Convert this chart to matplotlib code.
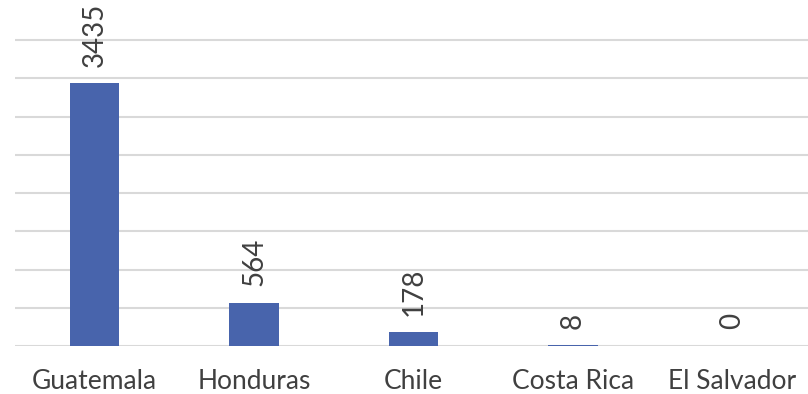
import matplotlib
matplotlib.use("Agg")
import matplotlib.pyplot as plt

categories = ["Guatemala", "Honduras", "Chile", "Costa Rica", "El Salvador"]
values = [3435, 564, 178, 8, 0]
yticks = [0, 500, 1000, 1500, 2000, 2500, 3000, 3500, 4000]

W, H = 808, 394
fig = plt.figure(figsize=(W / 100, H / 100), dpi=100)
left = 15 / W
right_px = 812
bottom = (H - 346) / H
ax = fig.add_axes([left, bottom, (right_px - 15) / W, 346 / H])

x = list(range(len(categories)))
bars = ax.bar(x, values, width=0.31, color="#4864AC", zorder=3)
ax.set_xlim(-0.5, len(categories) - 0.5)
ax.set_ylim(0, 4523)
ax.set_yticks(yticks)
ax.yaxis.grid(True, color="#D9D9D9", linewidth=1.5, zorder=0)
ax.tick_params(axis="y", left=False, labelleft=False)
ax.tick_params(axis="x", bottom=False, pad=13)
ax.set_xticks(x)
ax.set_xticklabels(categories, fontsize=19, color="#404040", family="Lato")
for s in ax.spines.values():
    s.set_visible(False)

for xi, v in zip(x, values):
    ax.annotate(str(v), xy=(xi, v), xytext=(0, 12), textcoords="offset points",
                rotation=90, ha="center", va="bottom", fontsize=20,
                color="#404040", family="Lato")

fig.savefig("out.png", dpi=100)
